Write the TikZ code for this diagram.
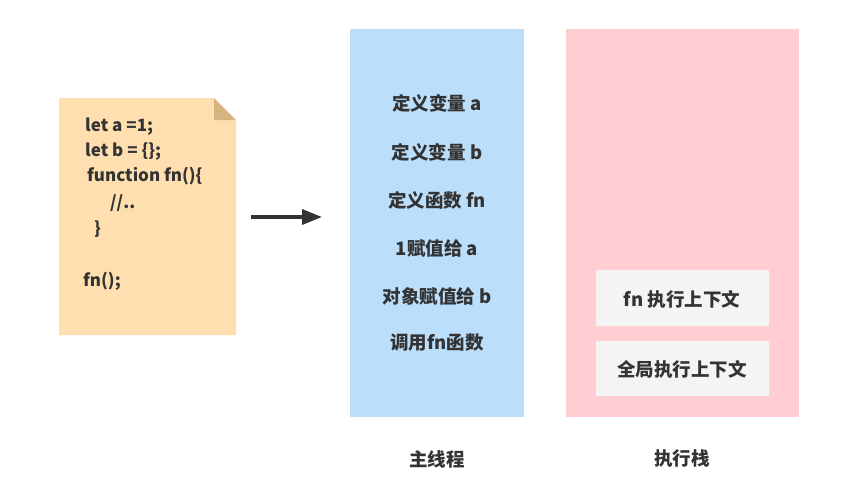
\documentclass[tikz,border=0pt]{standalone}
\usepackage{fontspec}
\setmainfont{Noto Sans CJK SC}
\usetikzlibrary{arrows.meta}
\definecolor{txt}{HTML}{333333}
\definecolor{paper}{HTML}{FFDFB0}
\definecolor{fold}{HTML}{D6B482}
\definecolor{blue}{HTML}{BBDEFB}
\definecolor{pink}{HTML}{FFCDD2}
\definecolor{graybox}{HTML}{F4F4F4}
\tikzset{
  lbl/.style={text=txt, font=\fontsize{18.5}{20}\selectfont\bfseries, inner sep=0pt},
  code/.style={text=txt, font=\fontsize{17}{20}\selectfont\bfseries, inner sep=0pt, anchor=west},
  ctx/.style={fill=graybox, draw=none, rounded corners=1pt},
}
\begin{document}
\begin{tikzpicture}[x=1pt,y=-1pt]
\useasboundingbox (0,0) rectangle (855,488);
\fill[white] (0,0) rectangle (855,488);
% document
\fill[paper] (59,98) -- (214,98) -- (236,120) -- (236,335) -- (59,335) -- cycle;
\fill[fold] (214,98) -- (236,120) -- (214,120) -- cycle;
\node[code] (c1) at (85,127) {let a =1;};
\node[code] (c2) at (85,152) {let b = \{\};};
\node[code] (c3) at (87,176) {function fn()\{};
\node[code] (c4) at (110,203) {//..};
\node[code] (c5) at (94,229) {\}};
\node[code] (c6) at (83,281) {fn();};
% arrow
\coordinate (as) at (251,217);
\coordinate (ae) at (322,217);
\draw[txt, line width=3.5pt, -{Triangle[length=20pt,width=15pt]}] (as) -- (ae);
% main thread
\fill[blue] (350,29) rectangle (524,417);
\node[lbl] (m1) at (437,103) {定义变量 a};
\node[lbl] (m2) at (437,152) {定义变量 b};
\node[lbl] (m3) at (437,200) {定义函数 fn};
\node[lbl] (m4) at (437,248) {1赋值给 a};
\node[lbl] (m5) at (437,296) {对象赋值给 b};
\node[lbl] (m6) at (437,343) {调用fn函数};
% stack
\fill[pink] (566,29) rectangle (799,417);
\fill[ctx] (596,270) rectangle (769,326);
\fill[ctx] (596,341) rectangle (769,396);
\node[lbl] (s1) at (682,299) {fn 执行上下文};
\node[lbl] (s2) at (682,369) {全局执行上下文};
% captions
\node[lbl] (t1) at (437,459) {主线程};
\node[lbl] (t2) at (682,459) {执行栈};
\end{tikzpicture}
\end{document}
